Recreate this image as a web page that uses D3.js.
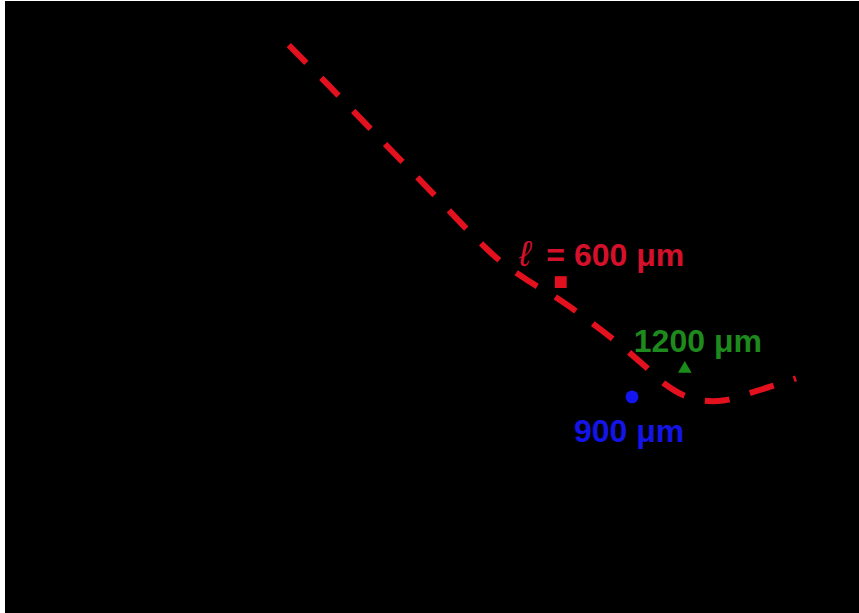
<!DOCTYPE html>
<html>
<head>
<meta charset="utf-8">
<script src="https://cdn.jsdelivr.net/npm/d3@7"></script>
<style>
  html, body { margin: 0; padding: 0; background: #ffffff; }
  svg { display: block; }
</style>
</head>
<body>
<svg id="chart" width="859" height="613"></svg>
<script>
// Fitted trend (dashed red curve)
const curveX = [31.1, 36.3, 42.5, 48.8, 53.8, 57.5, 61.3, 65.0, 68.8, 72.5, 75.6, 78.1, 80.6, 83.1, 85.6, 88.8, 91.9, 94.5];
const curveY = [95.5, 88.0, 78.8, 69.5, 62.0, 57.0, 53.2, 50.0, 46.1, 42.0, 38.2, 35.0, 32.9, 32.0, 32.1, 33.4, 34.8, 36.0];

// Measured points, one per length ℓ
const pointLabels = ["ℓ = 600 μm", "900 μm", "1200 μm"];
const pointX = [65.1, 74.0, 80.6];
const pointY = [53.2, 32.7, 37.7];
const pointShapes = ["square", "circle", "triangle"];
const pointColors = ["#e0101e", "#1414f0", "#1a8c1a"];
const labelColors = ["#d4102a", "#1414e6", "#1e8a1e"];

const svg = d3.select("#chart");

// dark panel
svg.append("rect")
  .attr("x", 5).attr("y", 1)
  .attr("width", 854).attr("height", 612)
  .attr("fill", "#000000");

const x = d3.scaleLinear().domain([0, 100]).range([40, 840]);
const y = d3.scaleLinear().domain([0, 100]).range([580, 20]);

const curve = curveX.map((v, i) => [v, curveY[i]]);
const line = d3.line()
  .x(d => x(d[0]))
  .y(d => y(d[1]))
  .curve(d3.curveCatmullRom);

svg.append("path")
  .datum(curve)
  .attr("d", line)
  .attr("fill", "none")
  .attr("stroke", "#e3101e")
  .attr("stroke-width", 6)
  .attr("stroke-dasharray", "25 21");

const symbolType = { square: d3.symbolSquare, circle: d3.symbolCircle, triangle: d3.symbolTriangle };
const symbolSize = { square: 140, circle: 130, triangle: 80 };

const pts = pointX.map((v, i) => ({
  x: v, y: pointY[i], shape: pointShapes[i], color: pointColors[i],
  label: pointLabels[i], labelColor: labelColors[i]
}));

svg.selectAll("path.pt")
  .data(pts)
  .join("path")
  .attr("class", "pt")
  .attr("transform", d => `translate(${x(d.x)},${y(d.y)})`)
  .attr("d", d => d3.symbol().type(symbolType[d.shape]).size(symbolSize[d.shape])())
  .attr("fill", d => d.color);

// label offsets relative to each marker
const labelDx = [-42, -58, -51];
const labelDy = [-16, 45, -17];

const labels = svg.selectAll("text.lbl")
  .data(pts)
  .join("text")
  .attr("class", "lbl")
  .attr("x", (d, i) => x(d.x) + labelDx[i])
  .attr("y", (d, i) => y(d.y) + labelDy[i])
  .attr("font-family", "Liberation Sans, Arial, sans-serif")
  .attr("font-size", 32)
  .attr("font-weight", "bold")
  .attr("fill", d => d.labelColor);

labels.each(function(d) {
  const t = d3.select(this);
  if (d.label.startsWith("ℓ")) {
    t.append("tspan").attr("font-style", "italic").attr("font-weight", "normal")
      .attr("font-size", 36).text("ℓ");
    t.append("tspan").attr("dx", 7).text(d.label.slice(1));
  } else {
    t.text(d.label);
  }
});
</script>
</body>
</html>
